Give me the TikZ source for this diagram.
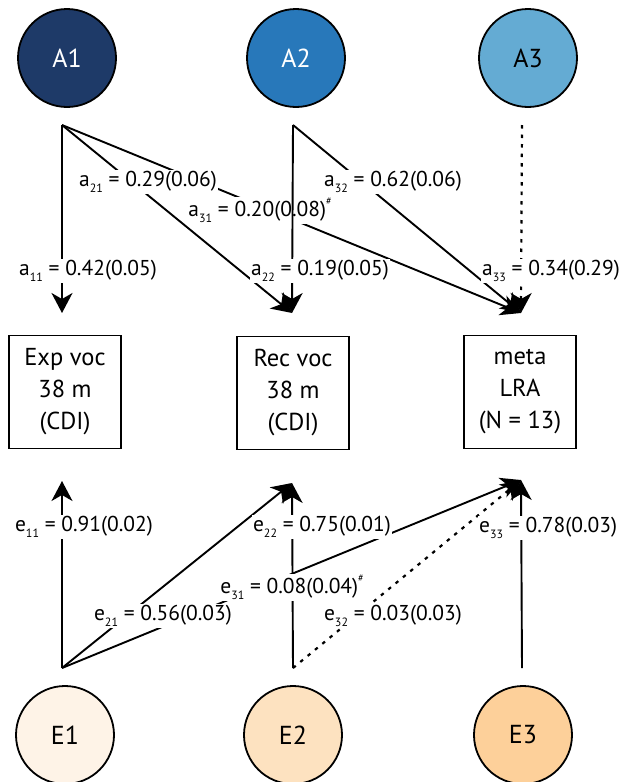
\documentclass[tikz,border=0pt]{standalone}
\usepackage{fontspec}
\setmainfont{PT Sans}
\usetikzlibrary{arrows.meta}
\definecolor{cAa}{HTML}{1E3A68}
\definecolor{cAb}{HTML}{2878BA}
\definecolor{cAc}{HTML}{64ABD3}
\definecolor{cEa}{HTML}{FEF3E7}
\definecolor{cEb}{HTML}{FDE2C0}
\definecolor{cEc}{HTML}{FDD09A}
\newcommand{\mysub}[1]{\raisebox{-0.32em}{\fontsize{12}{12}\selectfont #1}}
\newcommand{\myhash}{\raisebox{0.55em}{\fontsize{10}{10}\selectfont\#}}
\begin{document}
\begin{tikzpicture}[x=1pt,y={(0pt,-1pt)},
  latent/.style={circle, draw=black, line width=1.8pt, minimum size=98pt, inner sep=0pt, font=\fontsize{26}{26}\selectfont},
  measbox/.style={draw=black, line width=1.8pt, minimum width=112pt, minimum height=113pt, align=center, inner sep=0pt, font=\fontsize{24.5}{32}\selectfont},
  lab/.style={fill=white, inner sep=1pt, anchor=base, font=\fontsize{21.5}{21.5}\selectfont},
  conn/.style={line width=1.9pt, -{Stealth[length=20pt,width=21pt,inset=6pt]}},
  dotconn/.style={conn, line width=2.2pt, dash pattern=on 3.5pt off 6pt}]
\useasboundingbox (0,0) rectangle (622,782);

% latent variables
\node[latent, fill=cAa, text=white] (A1) at (67,58) {A1};
\node[latent, fill=cAb, text=white] (A2) at (296,58) {A2};
\node[latent, fill=cAc] (A3) at (528,58) {A3};
\node[latent, fill=cEa] (E1) at (65,735) {E1};
\node[latent, fill=cEb] (E2) at (293,735) {E2};
\node[latent, fill=cEc] (E3) at (523,735) {E3};

% measures
\node[measbox] (B1) at (65,392) {Exp voc\\38 m\\(CDI)};
\node[measbox] (B2) at (293,393) {Rec voc\\38 m\\(CDI)};
\node[measbox] (B3) at (520,392) {meta\\LRA\\(N = 13)};

% path end points
\coordinate (o1) at (62,125);
\coordinate (o2) at (293,125);
\coordinate (o3) at (522,125);
\coordinate (t1) at (62,313);
\coordinate (t2) at (292,313);
\coordinate (t3) at (521,313);
\coordinate (p1) at (62,668);
\coordinate (p2) at (293,668);
\coordinate (p3) at (522,668);
\coordinate (u1) at (62,481);
\coordinate (u2) at (292,483);
\coordinate (u3) at (521,480);

% top paths from A1
\draw[conn] (o1) -- (t1);
\draw[conn] (o1) -- (t2);
\draw[conn] (o1) -- (t3);
\node[lab] (la11) at (88,275) {a\mysub{11} = 0.42(0.05)};
\node[lab] (la21) at (148,186) {a\mysub{21} = 0.29(0.06)};
\node[lab] (la31) at (260,216) {a\mysub{31} = 0.20(0.08)\myhash};
% from A2
\draw[conn] (o2) -- (t2);
\draw[conn] (o2) -- (t3);
\node[lab] (la22) at (320,275) {a\mysub{22} = 0.19(0.05)};
\node[lab] (la32) at (393,186) {a\mysub{32} = 0.62(0.06)};
% from A3
\draw[dotconn] (o3) -- (t3);
\node[lab, anchor=base west] (la33) at (481,275) {a\mysub{33} = 0.34(0.29)};

% bottom paths
\draw[conn] (p1) -- (u1);
\draw[conn] (p1) -- (u2);
\draw[conn] (p1) -- (u3);
\draw[conn] (p2) -- (u2);
\draw[dotconn] (p2) -- (u3);
\draw[conn] (p3) -- (u3);
\node[lab] (le11) at (84,531) {e\mysub{11} = 0.91(0.02)};
\node[lab] (le22) at (322,531) {e\mysub{22} = 0.75(0.01)};
\node[lab, anchor=base west] (le33) at (478,532) {e\mysub{33} = 0.78(0.03)};
\node[lab] (le21) at (163,620) {e\mysub{21} = 0.56(0.03)};
\node[lab] (le32) at (393,620) {e\mysub{32} = 0.03(0.03)};
\node[lab] (le31) at (292,593) {e\mysub{31} = 0.08(0.04)\myhash};
\end{tikzpicture}
\end{document}
